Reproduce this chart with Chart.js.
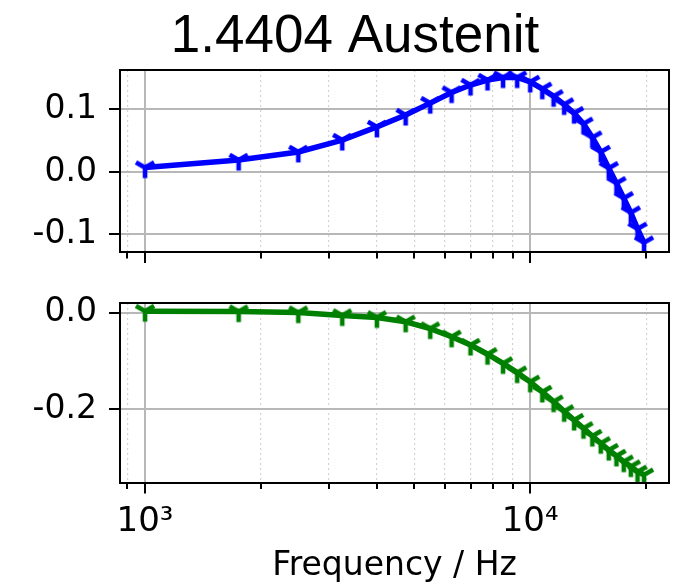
<!DOCTYPE html>
<html><head><meta charset="utf-8">
<script src="https://cdn.jsdelivr.net/npm/chart.js@4/dist/chart.umd.min.js"></script>
<style>
html,body{margin:0;padding:0;background:#fff;}
#wrap{position:relative;width:674px;height:586px;background:#fff;}
#wrap canvas{position:absolute;left:0;top:0;}
</style></head><body>
<div id="wrap"><canvas id="cTop" width="674" height="586"></canvas><canvas id="cBot" width="674" height="586"></canvas></div>
<script>
// ---- data ----
const chartTitle = '1.4404 Austenit';
const xAxisTitle = 'Frequency / Hz';
const frequencies = [1000,1750,2500,3250,4000,4750,5500,6250,7000,7750,8500,9250,10000,10750,11500,12250,13000,13750,14500,15250,16000,16750,17500,18250,19000,19750];
const topValues = [0.007,0.019,0.032,0.051,0.072,0.091,0.110,0.127,0.139,0.147,0.151,0.151,0.144,0.133,0.121,0.108,0.094,0.077,0.055,0.032,0.006,-0.018,-0.042,-0.065,-0.091,-0.113];
const bottomValues = [0.003,0.002,0.000,-0.006,-0.010,-0.019,-0.033,-0.050,-0.067,-0.086,-0.105,-0.124,-0.143,-0.164,-0.184,-0.204,-0.222,-0.239,-0.255,-0.270,-0.284,-0.296,-0.308,-0.318,-0.329,-0.335];
const xTickValues = [900,1000,2000,3000,4000,5000,6000,7000,8000,9000,10000,20000];
const xTickLabels = {1000:'10\u00B3', 10000:'10\u2074'};
const topYTicks = [-0.1,0.0,0.1];
const bottomYTicks = [-0.2,0.0];

// ---- helpers ----
const FONT = 'DejaVu Sans';
function isMajor(v){ const l = Math.log10(v); return Math.abs(l - Math.round(l)) < 1e-9; }
function triDown(color){
  const c = document.createElement('canvas');
  c.width = 30; c.height = 30;
  const g = c.getContext('2d');
  const cx = 15, cy = 15, r = 10.5;
  g.strokeStyle = color; g.lineWidth = 4.6; g.lineCap = 'butt';
  g.beginPath();
  g.moveTo(cx, cy); g.lineTo(cx, cy + r);
  g.moveTo(cx, cy); g.lineTo(cx - r*0.866, cy - r*0.5);
  g.moveTo(cx, cy); g.lineTo(cx + r*0.866, cy - r*0.5);
  g.stroke();
  return c;
}
const framePlugin = {
  id: 'frame',
  afterDraw(chart){
    const {ctx, chartArea: a} = chart;
    const xs = chart.scales.x;
    ctx.save();
    ctx.strokeStyle = '#000';
    ctx.lineWidth = 2;
    xs.ticks.forEach(t => {
      if (!isMajor(t.value)) {
        const px = Math.round(xs.getPixelForValue(t.value));
        ctx.beginPath(); ctx.moveTo(px, a.bottom); ctx.lineTo(px, a.bottom + 6.5); ctx.stroke();
      }
    });
    ctx.strokeRect(Math.round(a.left), Math.round(a.top), Math.round(a.right - a.left), Math.round(a.bottom - a.top));
    ctx.restore();
  }
};
const titlePlugin = {
  id: 'figtitle',
  afterDraw(chart){
    const ctx = chart.ctx;
    ctx.save();
    ctx.fillStyle = '#000';
    ctx.font = '53px "Liberation Sans", Arial, sans-serif';
    ctx.textAlign = 'center';
    ctx.textBaseline = 'alphabetic';
    ctx.fillText(chartTitle, 355, 52);
    ctx.restore();
  }
};
function xScale(showLabels, h){
  return {
    type: 'logarithmic', min: 861, max: 22930,
    afterBuildTicks: s => { s.ticks = xTickValues.map(v => ({value: v, major: isMajor(v)})); },
    afterFit: s => { s.height = h; s.paddingLeft = 0; s.paddingRight = 0; },
    ticks: { display: showLabels, autoSkip: false, maxRotation: 0, minRotation: 0, padding: 8, color: '#000',
      font: {family: FONT, size: 34, lineHeight: 1.2},
      callback: v => xTickLabels[v] || '' },
    grid: {
      color: c => (c.tick && !isMajor(c.tick.value)) ? '#d4d4d4' : '#b8b8b8',
      lineWidth: c => (c.tick && !isMajor(c.tick.value)) ? 1.2 : 2,
      tickColor: c => (c.tick && !isMajor(c.tick.value)) ? 'rgba(0,0,0,0)' : '#000',
      tickLength: 11, tickWidth: 2
    },
    border: { display: true, color: '#000', width: 2,
      dash: c => (c.tick && !isMajor(c.tick.value)) ? [2, 3] : [] },
    title: { display: showLabels, text: xAxisTitle, color: '#000',
      font: {family: FONT, size: 33, lineHeight: 1.2}, padding: {top: 0, bottom: 0} }
  };
}
function yScale(min, max, tickVals){
  return {
    type: 'linear', min, max,
    afterBuildTicks: s => { s.ticks = tickVals.map(v => ({value: v})); },
    afterFit: s => { s.width = 120; },
    ticks: { padding: 12, color: '#000', font: {family: FONT, size: 33, lineHeight: 1.2},
      callback: v => Number(v).toFixed(1) },
    grid: { color: '#b8b8b8', lineWidth: 2, tickColor: '#000', tickLength: 11, tickWidth: 2 },
    border: { display: true, color: '#000', width: 2 }
  };
}
function dataset(vals, color){
  return {
    data: frequencies.map((f, i) => ({x: f, y: vals[i]})),
    borderColor: color, backgroundColor: color, borderWidth: 5.5,
    pointStyle: triDown(color), pointRadius: 10, pointHoverRadius: 10,
    tension: 0, fill: false
  };
}
const common = {
  responsive: false, animation: false, devicePixelRatio: 1,
  plugins: { legend: {display: false}, tooltip: {enabled: false}, title: {display: false} },
  events: []
};

new Chart(document.getElementById('cTop'), {
  type: 'line',
  data: { datasets: [dataset(topValues, '#0000ff')] },
  options: Object.assign({}, common, {
    layout: { autoPadding: false, padding: {top: 70, right: 5, bottom: 586 - 252 - 11, left: 0} },
    scales: { x: xScale(false, 11), y: yScale(-0.128, 0.163, topYTicks) }
  }),
  plugins: [framePlugin, titlePlugin]
});

new Chart(document.getElementById('cBot'), {
  type: 'line',
  data: { datasets: [dataset(bottomValues, '#008000')] },
  options: Object.assign({}, common, {
    layout: { autoPadding: false, padding: {top: 303, right: 5, bottom: 0, left: 0} },
    scales: { x: xScale(true, 586 - 482.5), y: yScale(-0.351, 0.0198, bottomYTicks) }
  }),
  plugins: [framePlugin]
});
</script>
</body></html>
